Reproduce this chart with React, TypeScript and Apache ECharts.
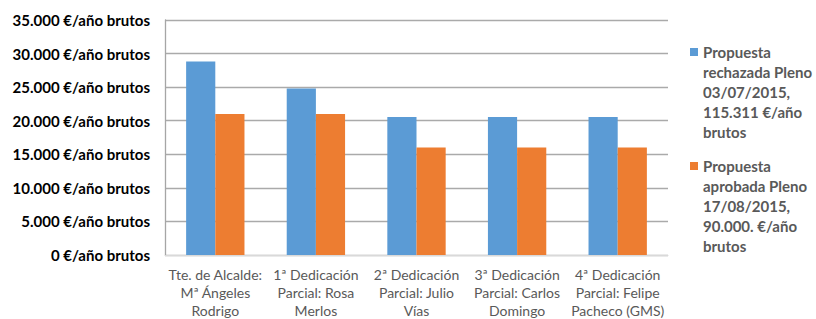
import React, { useEffect, useRef } from "react";
import * as echarts from "echarts";

const categories = [
  "Tte. de Alcalde:\nMª Ángeles\nRodrigo",
  "1ª Dedicación\nParcial: Rosa\nMerlos",
  "2ª Dedicación\nParcial: Julio\nVías",
  "3ª Dedicación\nParcial: Carlos\nDomingo",
  "4ª Dedicación\nParcial: Felipe\nPacheco (GMS)",
];
const seriesNames = [
  "Propuesta\nrechazada Pleno\n03/07/2015,\n115.311 €/año\nbrutos",
  "Propuesta\naprobada Pleno\n17/08/2015,\n90.000. €/año\nbrutos",
];
const rechazada = [28830, 24780, 20567, 20567, 20567];
const aprobada = [21000, 21000, 16000, 16000, 16000];
const yTickLabels = [
  "0 €/año brutos",
  "5.000 €/año brutos",
  "10.000 €/año brutos",
  "15.000 €/año brutos",
  "20.000 €/año brutos",
  "25.000 €/año brutos",
  "30.000 €/año brutos",
  "35.000 €/año brutos",
];

const FONT = "Lato, 'Open Sans', sans-serif";

export default function App() {
  const ref = useRef<HTMLDivElement>(null);
  useEffect(() => {
    if (!ref.current) return;
    const chart = echarts.init(ref.current, null, { renderer: "svg" });
    chart.setOption({
      animation: false,
      backgroundColor: "#ffffff",
      textStyle: { fontFamily: FONT },
      grid: { left: 165, right: 148, top: 20, bottom: 60.5, containLabel: false },
      legend: {
        orient: "vertical",
        left: 690,
        top: -38,
        padding: 0,
        itemGap: -66,
        itemWidth: 8,
        itemHeight: 8,
        icon: "rect",
        data: seriesNames,
        formatter: (name: string) => "\n\n\n\n" + name,
        textStyle: {
          fontFamily: FONT,
          fontWeight: "bold",
          fontSize: 15,
          color: "#595959",
          lineHeight: 20,
        },
      },
      xAxis: {
        type: "category",
        data: categories,
        axisTick: { show: false },
        axisLine: { show: true, lineStyle: { color: "#d9d9d9", width: 1 } },
        axisLabel: {
          color: "#595959",
          fontFamily: FONT,
          fontSize: 14,
          lineHeight: 18,
          margin: 10,
          interval: 0,
        },
      },
      yAxis: {
        type: "value",
        min: 0,
        max: 35000,
        interval: 5000,
        axisLine: { show: true, lineStyle: { color: "#a6a6a6", width: 1.3 } },
        axisTick: { show: false },
        splitLine: { lineStyle: { color: "#aaaaaa", width: 1.3 } },
        axisLabel: {
          color: "#000000",
          fontFamily: FONT,
          fontWeight: "bold",
          fontSize: 15,
          margin: 15,
          formatter: (v: number) => yTickLabels[Math.round(v / 5000)],
        },
      },
      series: [
        {
          name: seriesNames[0],
          type: "bar",
          data: rechazada,
          barGap: "0%",
          barCategoryGap: "42%",
          itemStyle: { color: "#5b9bd5" },
        },
        {
          name: seriesNames[1],
          type: "bar",
          data: aprobada,
          barGap: "0%",
          barCategoryGap: "42%",
          itemStyle: { color: "#ed7d31" },
        },
      ],
    });
    return () => chart.dispose();
  }, []);
  return (
    <div
      ref={ref}
      style={{ position: "absolute", left: 0, top: 0, width: 816, height: 319 }}
    />
  );
}
